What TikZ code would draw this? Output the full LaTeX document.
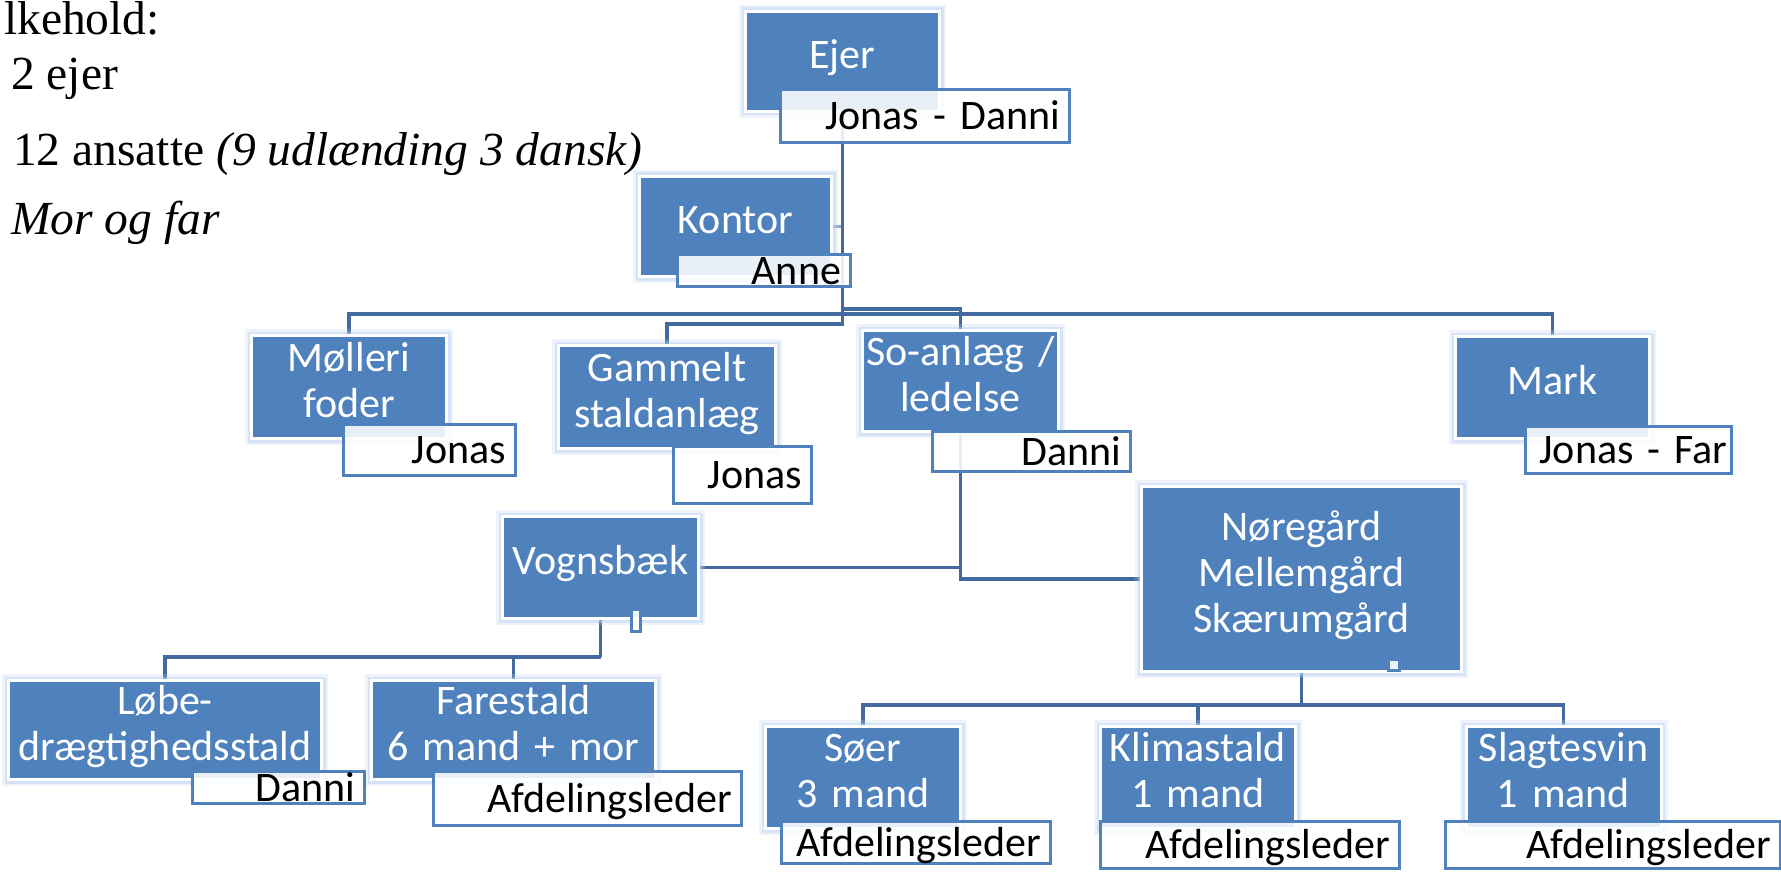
\documentclass[tikz,border=0pt]{standalone}
\usepackage{fontspec}
\setmainfont{Carlito}
\newfontfamily\tnr{Liberation Serif}
\usetikzlibrary{backgrounds}
\definecolor{boxblue}{RGB}{79,129,189}
\definecolor{connc}{RGB}{66,106,160}
\definecolor{glowc}{RGB}{185,205,238}
\tikzset{
  bluebox/.style={fill=boxblue, draw=white, line width=3pt, inner sep=0pt,
    preaction={draw=glowc, line width=13pt, draw opacity=0.25},
    preaction={draw=glowc, line width=8pt, draw opacity=0.45}},
  btext/.style={text=white, font=\fontsize{42}{46}\selectfont, align=center, inner sep=0pt, text height=27pt, yshift=6.5pt},
  one/.style={btext, text depth=0pt, text width=#1},
  two/.style={btext, text depth=46pt, text width=#1},
  three/.style={btext, text depth=92pt, text width=#1},
  wbox/.style={fill=white, fill opacity=0.88, text opacity=1, draw=boxblue, line width=3pt, inner ysep=0pt, inner xsep=9.5pt, align=right, text height=27pt, text depth=0pt, font=\fontsize{42}{46}\selectfont, text=black},
  stubbox/.style={fill=white, fill opacity=0.9, draw=boxblue, line width=3pt, inner sep=0pt},
  conn/.style={draw=connc, line width=3.5pt},
  ltext/.style={font=\tnr\fontsize{47.5}{54}\selectfont, inner sep=0pt, anchor=base west},
}
\begin{document}
\begin{tikzpicture}[x=1pt,y=-1pt]
\useasboundingbox (0,0) rectangle (1781,872);
\clip (0,0) rectangle (1781,872);

% left text
\node[ltext] (t1) at (4,35) {lkehold:};
\node[ltext] (t2) at (11,90) {2 ejer};
\node[ltext] (t3) at (13,165) {12 ansatte \textit{(9 udlænding 3 dansk)}};
\node[ltext] (t4) at (11,234) {\textit{Mor og far}};

% blue boxes
\node[bluebox, minimum width=194pt, minimum height=100pt, label={[one=190pt]center:Ejer}] (ejer) at (842.5,61.5) {};
\node[bluebox, minimum width=192pt, minimum height=100pt, label={[one=188pt]center:Kontor}] (kontor) at (735.5,226.5) {};
\node[bluebox, minimum width=195pt, minimum height=103pt, label={[two=190pt]center:{Mølleri\\foder}}] (moller) at (349,387) {};
\node[bluebox, minimum width=217pt, minimum height=103pt, label={[two=214pt]center:{Gammelt\\staldanlæg}}] (gammelt) at (667,397) {};
\node[bluebox, minimum width=196pt, minimum height=101pt, label={[two=194pt]center:{So-anlæg /\\ledelse}}] (so) at (960.5,381) {};
\node[bluebox, minimum width=194pt, minimum height=102pt, label={[one=190pt]center:Mark}] (mark) at (1552.5,387.5) {};
\node[bluebox, minimum width=196pt, minimum height=102pt, label={[one=194pt]center:Vognsbæk}] (vogn) at (600.5,567.5) {};
\node[bluebox, minimum width=313pt, minimum height=99pt, label={[two=312pt]center:{Løbe-\\drægtighedsstald}}] (lobe) at (165,730) {};
\node[bluebox, minimum width=284pt, minimum height=99pt, label={[two=282pt]center:{Farestald\\6 mand + mor}}] (fare) at (513.5,730) {};
\node[bluebox, minimum width=320pt, minimum height=185pt, label={[three=316pt]center:{Nøregård\\Mellemgård\\Skærumgård}}] (nore) at (1301.5,579) {};
\node[bluebox, minimum width=195pt, minimum height=102pt, label={[two=192pt]center:{Søer\\3 mand}}] (soer) at (863,777.5) {};
\node[bluebox, minimum width=195pt, minimum height=102pt, label={[two=192pt]center:{Klimastald\\1 mand}}] (klima) at (1198,777.5) {};
\node[bluebox, minimum width=195pt, minimum height=102pt, label={[two=192pt]center:{Slagtesvin\\1 mand}}] (slagt) at (1563.5,777.5) {};

% white name boxes
\node[wbox, text width=270pt, minimum height=53pt] (ejerW) at (925,116) {Jonas - Danni};
\node[wbox, text width=154pt, minimum height=32pt] (kontorW) at (764,270.5) {Anne};
\node[wbox, text width=153pt, minimum height=51pt] (mollerW) at (429.5,450) {Jonas};
\node[wbox, text width=119pt, minimum height=57pt] (gammeltW) at (742.5,475) {Jonas};
\node[wbox, text width=179pt, minimum height=40pt] (soW) at (1031.5,451.5) {Danni};
\node[wbox, text width=198pt, inner xsep=4pt, minimum height=47pt] (markW) at (1628.5,450) {Jonas - Far};
\node[wbox, text width=153pt, minimum height=32pt] (lobeW) at (278.5,787.5) {Danni};
\node[wbox, text width=289pt, minimum height=54pt] (fareW) at (587.5,798.5) {Afdelingsleder};
\node[wbox, text width=250pt, minimum height=42pt] (soerW) at (916,842.5) {Afdelingsleder};
\node[wbox, text width=280pt, minimum height=47pt] (klimaW) at (1250,845) {Afdelingsleder};
\node[wbox, text width=316pt, minimum height=47pt] (slagtW) at (1613,845) {Afdelingsleder};

% small empty stubs
\node[stubbox, minimum width=9pt, minimum height=22pt] (vstub) at (636,620.5) {};
\node[stubbox, minimum width=11pt, minimum height=11pt] (nstub) at (1394,665) {};

% junctions
\coordinate (gj) at (842.5,324);
\coordinate (bus) at (842.5,314);
\coordinate (sj) at (842.5,309);
\coordinate (vj) at (600.5,657);
\coordinate (nj) at (1301.5,705);

\begin{scope}[on background layer]
\draw[conn] (ejer.south) -- (gj) -| (gammelt.north);
\draw[conn] (moller.north) |- (bus) -| (mark.north);
\draw[conn] (sj) -| (so.north);
\draw[conn, draw opacity=0.55] (kontor.east) -- (kontor.east -| ejer.south);
\draw[conn] (so.south) |- (nore.west);
\draw[conn] (vogn.east) -- (vogn.east -| so.south);
\draw[conn] (vogn.south) -- (vj);
\draw[conn] (lobe.north) |- (vj);
\draw[conn] (fare.north) -- (fare.north |- vj);
\draw[conn] (nore.south) -- (nj);
\draw[conn] (soer.north) |- (nj) -| (slagt.north);
\draw[conn] (klima.north) -- (klima.north |- nj);
\end{scope}
\end{tikzpicture}
\end{document}
